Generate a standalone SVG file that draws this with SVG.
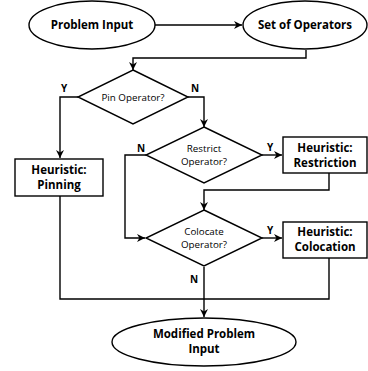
<svg xmlns="http://www.w3.org/2000/svg" width="368" height="371" viewBox="0 0 368 371">
<defs>
<marker id="ah" viewBox="0 0 10 10" refX="10" refY="5" markerWidth="8" markerHeight="8" markerUnits="userSpaceOnUse" orient="auto">
<path d="M0,0 L10,5 L0,10 L3,5 Z" fill="#000"/>
</marker>
<style>
.sh{fill:#fff;stroke:#000;stroke-width:1.4}
.c{fill:none;stroke:#000;stroke-width:1.4}
.b{font-family:"Open Sans",sans-serif;font-weight:bold;font-size:11.5px;text-anchor:middle;fill:#000}
.r{font-family:"Open Sans",sans-serif;font-size:9.8px;text-anchor:middle;fill:#000}
.l{font-family:"Open Sans",sans-serif;font-weight:bold;font-size:10px;text-anchor:middle;fill:#000}
</style>
</defs>
<rect width="368" height="371" fill="#fff"/>
<g id="connectors">
<path class="c" d="M155,25 H242" marker-end="url(#ah)"/>
<path class="c" d="M306,50 V58 H133 V70" marker-end="url(#ah)"/>
<path class="c" d="M78,97 H60 V158" marker-end="url(#ah)"/>
<path class="c" d="M188,97 H204 V127" marker-end="url(#ah)"/>
<path class="c" d="M262,155 H282" marker-end="url(#ah)"/>
<path class="c" d="M146,155 H125 V238 H145" marker-end="url(#ah)"/>
<path class="c" d="M329,173 V190 H204 V210" marker-end="url(#ah)"/>
<path class="c" d="M262,238 H282" marker-end="url(#ah)"/>
<path class="c" d="M60,196 V299 H329 V257"/>
<path class="c" d="M204,267 V317" marker-end="url(#ah)"/>
<text class="l" x="64" y="92">Y</text>
<text class="l" x="195" y="92">N</text>
<text class="l" x="141" y="152">N</text>
<text class="l" x="270" y="151">Y</text>
<text class="l" x="270" y="234">Y</text>
<text class="l" x="194" y="283">N</text>
</g>
<g id="problem-input">
<ellipse class="sh" cx="92" cy="25" rx="63" ry="24"/>
<text class="b" x="92" y="29">Problem Input</text>
</g>
<g id="set-of-operators">
<ellipse class="sh" cx="305" cy="25" rx="62" ry="24"/>
<text class="b" x="305" y="29">Set of Operators</text>
</g>
<g id="pin-operator">
<polygon class="sh" points="133,70 188,97 133,124 78,97"/>
<text class="r" x="133" y="100.5">Pin Operator?</text>
</g>
<g id="heuristic-pinning">
<rect class="sh" x="15" y="159" width="88" height="37"/>
<text class="b" x="59" y="174">Heuristic:</text>
<text class="b" x="59" y="189">Pinning</text>
</g>
<g id="restrict-operator">
<polygon class="sh" points="204,127 262,155 204,183 146,155"/>
<text class="r" x="204" y="152">Restrict</text>
<text class="r" x="204" y="165">Operator?</text>
</g>
<g id="heuristic-restriction">
<rect class="sh" x="283" y="137" width="84" height="36"/>
<text class="b" x="325" y="152">Heuristic:</text>
<text class="b" x="325" y="167">Restriction</text>
</g>
<g id="colocate-operator">
<polygon class="sh" points="204,210 262,238 204,266 146,238"/>
<text class="r" x="204" y="235">Colocate</text>
<text class="r" x="204" y="248">Operator?</text>
</g>
<g id="heuristic-colocation">
<rect class="sh" x="283" y="222" width="84" height="36"/>
<text class="b" x="325" y="236">Heuristic:</text>
<text class="b" x="325" y="251">Colocation</text>
</g>
<g id="modified-problem-input">
<ellipse class="sh" cx="204" cy="342" rx="92" ry="24"/>
<text class="b" x="204" y="338">Modified Problem</text>
<text class="b" x="204" y="353">Input</text>
</g>
</svg>
